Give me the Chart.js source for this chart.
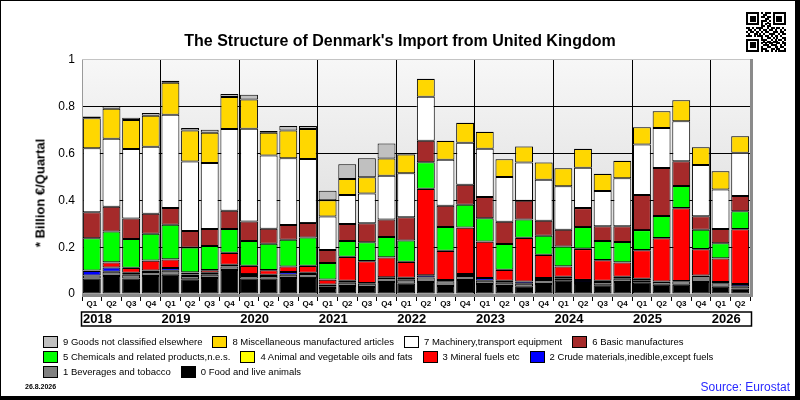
<!DOCTYPE html>
<html>
<head>
<meta charset="utf-8">
<script src="https://cdn.jsdelivr.net/npm/chart.js@4.4.0/dist/chart.umd.min.js"></script>
<style>
  body { margin: 0; background: #fff; }
  #wrap { position: relative; width: 800px; height: 400px; overflow: hidden; font-family: Arial, "Liberation Sans", sans-serif; }
  #chart { position: absolute; left: 0; top: 0; }
  #frame { position: absolute; left: 0; top: 0; width: 800px; height: 400px; box-sizing: border-box;
           border-left: 1px solid #000; border-top: 1px solid #000; border-right: 5px solid #000; border-bottom: 4px solid #000; pointer-events: none; }
  #title { position: absolute; left: 0; top: 32px; width: 800px; text-align: center; line-height: 20px;
           font: bold 16px "Liberation Sans Narrow", Arial, sans-serif; }
  #ytitle { position: absolute; left: 40px; top: 193px; transform: translate(-50%, -50%) rotate(-90deg);
            font: bold 13px "Liberation Sans Narrow", Arial, sans-serif; white-space: nowrap; }
  .row { position: absolute; left: 43px; display: flex; align-items: center; font-size: 9.5px; line-height: 12px; white-space: nowrap; }
  .row span { display: flex; align-items: center; margin-right: 10px; }
  .row i { display: inline-block; width: 13px; height: 10px; border: 1px solid #000; margin-right: 5px; }
  #date { position: absolute; left: 25px; top: 382px; font: bold 7px Arial, sans-serif; line-height: 10px; }
  #source { position: absolute; right: 10px; top: 380px; font-size: 12px; line-height: 14px; color: #2a2aff; }
  #qr { position: absolute; left: 746px; top: 12px; }
</style>
</head>
<body>
<div id="wrap">
  <canvas id="chart" width="800" height="400"></canvas>
  <div id="title">The Structure of Denmark's Import from United Kingdom</div>
  <div id="ytitle">* Billion €/Quartal</div>
  <div id="legend"></div>
  <div id="date">26.8.2026</div>
  <div id="source">Source: Eurostat</div>
  <canvas id="qr" width="40" height="40"></canvas>
  <div id="frame"></div>
</div>
<script>
// quarters 2018 Q1 .. 2026 Q2
const years = ['2018', '2019', '2020', '2021', '2022', '2023', '2024', '2025', '2026'];
const quarters = ['Q1', 'Q2', 'Q3', 'Q4'];

// billion EUR per quarter, by SITC group
const food    = [0.066,0.077,0.066,0.077,0.082,0.063,0.068,0.103,0.066,0.066,0.068,0.068,0.026,0.034,0.030,0.051,0.044,0.051,0.034,0.060,0.043,0.034,0.031,0.043,0.057,0.043,0.037,0.051,0.048,0.040,0.040,0.051,0.031,0.023];
const bev     = [0.013,0.018,0.016,0.017,0.017,0.014,0.014,0.014,0.011,0.011,0.014,0.017,0.007,0.014,0.014,0.017,0.017,0.020,0.020,0.017,0.014,0.014,0.013,0.017,0.008,0.008,0.014,0.014,0.009,0.011,0.014,0.026,0.015,0.010];
const crude   = [0.019,0.018,0.009,0.006,0.012,0.006,0.009,0.008,0.008,0.005,0.012,0.006,0.008,0.009,0.003,0.004,0.008,0.009,0.006,0.008,0.011,0.009,0.009,0.008,0.009,0.009,0.006,0.009,0.008,0.002,0.002,0.002,0.005,0.010];
const mineral = [0.001,0.022,0.020,0.042,0.036,0.009,0.011,0.050,0.035,0.020,0.023,0.029,0.020,0.101,0.093,0.084,0.068,0.369,0.124,0.198,0.155,0.046,0.186,0.099,0.044,0.132,0.087,0.061,0.122,0.185,0.310,0.112,0.101,0.234];
const oils    = [0.001,0.001,0.001,0.001,0.001,0.001,0.001,0.001,0.001,0.001,0.001,0.001,0.001,0.001,0.001,0.001,0.001,0.001,0.001,0.001,0.001,0.001,0.001,0.001,0.001,0.001,0.001,0.001,0.001,0.001,0.001,0.001,0.001,0.001];
const chem    = [0.138,0.131,0.123,0.114,0.148,0.106,0.102,0.102,0.106,0.112,0.114,0.120,0.070,0.067,0.080,0.087,0.091,0.113,0.101,0.097,0.100,0.110,0.078,0.081,0.084,0.093,0.081,0.086,0.085,0.094,0.095,0.083,0.064,0.076];
const basic   = [0.111,0.106,0.088,0.086,0.071,0.070,0.073,0.078,0.083,0.064,0.063,0.062,0.056,0.073,0.081,0.074,0.099,0.092,0.091,0.086,0.091,0.095,0.081,0.064,0.072,0.081,0.064,0.068,0.150,0.205,0.105,0.057,0.061,0.065];
const mach    = [0.274,0.290,0.297,0.286,0.399,0.297,0.282,0.349,0.396,0.313,0.285,0.274,0.143,0.124,0.128,0.187,0.188,0.188,0.197,0.179,0.206,0.191,0.163,0.175,0.185,0.172,0.150,0.205,0.216,0.171,0.171,0.219,0.169,0.185];
const misc    = [0.128,0.129,0.124,0.133,0.137,0.133,0.129,0.137,0.125,0.097,0.119,0.128,0.070,0.068,0.069,0.074,0.080,0.076,0.080,0.085,0.071,0.076,0.068,0.074,0.077,0.081,0.073,0.073,0.074,0.072,0.090,0.076,0.078,0.070];
const other   = [0.008,0.011,0.009,0.012,0.008,0.010,0.013,0.013,0.020,0.008,0.019,0.013,0.040,0.064,0.081,0.064,0.002,0.001,0.001,0.001,0.001,0.001,0.001,0.001,0.001,0.001,0.001,0.001,0.001,0.001,0.001,0.001,0.001,0.001];

const seriesNames = [
  '0 Food and live animals', '1 Beverages and tobacco', '2 Crude materials,inedible,except fuels',
  '3 Mineral fuels etc', '4 Animal and vegetable oils and fats', '5 Chemicals and related products,n.e.s.',
  '6 Basic manufactures', '7 Machinery,transport equipment', '8 Miscellaneous manufactured articles',
  '9 Goods not classified elsewhere'
];
const seriesData = [food, bev, crude, mineral, oils, chem, basic, mach, misc, other];
const colors = ['#000000', '#808080', '#0000ff', '#ff0000', '#ffff00', '#00ff00', '#a52a2a', '#ffffff', '#ffd700', '#c0c0c0'];

const labels = [];
const labelYear = [];
years.forEach(y => quarters.forEach(q => { labels.push(q); labelYear.push(y); }));
labels.length = food.length;
labelYear.length = food.length;

// legend, three rows as in the original
const legendRows = [[9, 8, 7, 6], [5, 4, 3, 2], [1, 0]];
const rowTops = [336, 351, 366];
const legend = document.getElementById('legend');
legendRows.forEach((row, r) => {
  const div = document.createElement('div');
  div.className = 'row';
  div.style.top = rowTops[r] + 'px';
  row.forEach(k => {
    const s = document.createElement('span');
    s.innerHTML = '<i style="background:' + colors[k] + '"></i>' + seriesNames[k];
    div.appendChild(s);
  });
  legend.appendChild(div);
});

const decor = {
  id: 'decor',
  beforeDraw(chart) {
    const { ctx, chartArea: a } = chart;
    const g = ctx.createLinearGradient(0, a.top, 0, a.bottom);
    g.addColorStop(0, '#f7f7f7');
    g.addColorStop(1, '#d6d6d6');
    ctx.save();
    ctx.fillStyle = g;
    ctx.fillRect(a.left, a.top, a.right - a.left, a.bottom - a.top);
    ctx.restore();
  },
  afterDraw(chart) {
    const { ctx, chartArea: a, scales: { x } } = chart;
    ctx.save();
    ctx.fillStyle = '#8a8a8a';
    ctx.fillRect(a.left, a.bottom, a.right - a.left + 3, 3);
    ctx.fillRect(a.right, a.top - 1, 3, a.bottom - a.top + 4);
    ctx.fillStyle = '#c4c4c4';
    ctx.fillRect(a.left, a.top - 1, a.right - a.left, 1);

    // year band
    ctx.strokeStyle = '#000';
    ctx.lineWidth = 1.5;
    ctx.strokeRect(a.left - 0.5, 312, a.right - a.left + 2, 14);
    ctx.fillStyle = '#000';
    ctx.font = 'bold 13px Arial';
    ctx.textBaseline = 'alphabetic';
    const half = (x.getPixelForValue(1) - x.getPixelForValue(0)) / 2;
    labels.forEach((q, i) => {
      if (q === 'Q1') ctx.fillText(labelYear[i], x.getPixelForValue(i) - half + 1, 322.5);
    });
    ctx.restore();
  }
};

new Chart(document.getElementById('chart').getContext('2d'), {
  type: 'bar',
  data: {
    labels: labels,
    datasets: seriesData.map((d, k) => ({
      label: seriesNames[k],
      data: d,
      backgroundColor: colors[k],
      borderColor: '#000',
      borderWidth: 1,
      borderSkipped: false,
      barPercentage: 0.91,
      categoryPercentage: 1
    }))
  },
  options: {
    responsive: false,
    animation: false,
    devicePixelRatio: 1,
    layout: { padding: { left: 0, top: 60, right: 50, bottom: 0 } },
    plugins: { legend: { display: false }, tooltip: { enabled: false }, title: { display: false } },
    scales: {
      x: {
        stacked: true,
        offset: true,
        ticks: { font: { family: 'Arial', size: 8, weight: 'bold' }, color: '#000', padding: -2, maxRotation: 0, autoSkip: false },
        grid: {
          offset: true,
          tickLength: 7,
          tickColor: '#000',
          lineWidth: 1,
          borderDash: [1, 2],
          color: c => (c.index % 4 === 0 && c.index > 0 && c.index < labels.length) ? '#000' : 'rgba(0,0,0,0)'
        },
        border: { display: false },
        afterFit: s => { s.height = 106; }
      },
      y: {
        stacked: true,
        min: 0,
        max: 1,
        ticks: { stepSize: 0.2, font: { family: 'Arial', size: 12 }, color: '#000', padding: 7,
                 callback: v => Math.round(v * 10) / 10 },
        grid: {
          drawTicks: false,
          lineWidth: 1,
          borderDash: [1, 2],
          color: c => (c.tick && c.tick.value > 0 && c.tick.value < 1) ? '#000' : 'rgba(0,0,0,0)'
        },
        border: { display: true, color: '#9a9a9a', width: 1 },
        afterFit: s => { s.width = 82; }
      }
    }
  },
  plugins: [decor]
});

// small QR-like code in the corner
const qrRows = [
  '111111101011101111111',
  '100000100110001000001',
  '101110101101101011101',
  '101110100011001011101',
  '101110101110101011101',
  '100000101001001000001',
  '111111101010101111111',
  '000000001101100000000',
  '110101111001011011010',
  '011010010110110100101',
  '101101101011001110110',
  '010011010100111001011',
  '111010111011010110100',
  '000000001001101010011',
  '111111101110010101101',
  '100000100101101110010',
  '101110101010110011011',
  '101110100111011100101',
  '101110101001100110110',
  '100000101110011011001',
  '111111101011010101111'
];
const qctx = document.getElementById('qr').getContext('2d');
const m = 40 / qrRows.length;
qctx.fillStyle = '#000';
qrRows.forEach((row, r) => {
  for (let c = 0; c < row.length; c++) {
    if (row[c] === '1') qctx.fillRect(Math.round(c * m), Math.round(r * m), Math.ceil(m), Math.ceil(m));
  }
});
</script>
</body>
</html>
